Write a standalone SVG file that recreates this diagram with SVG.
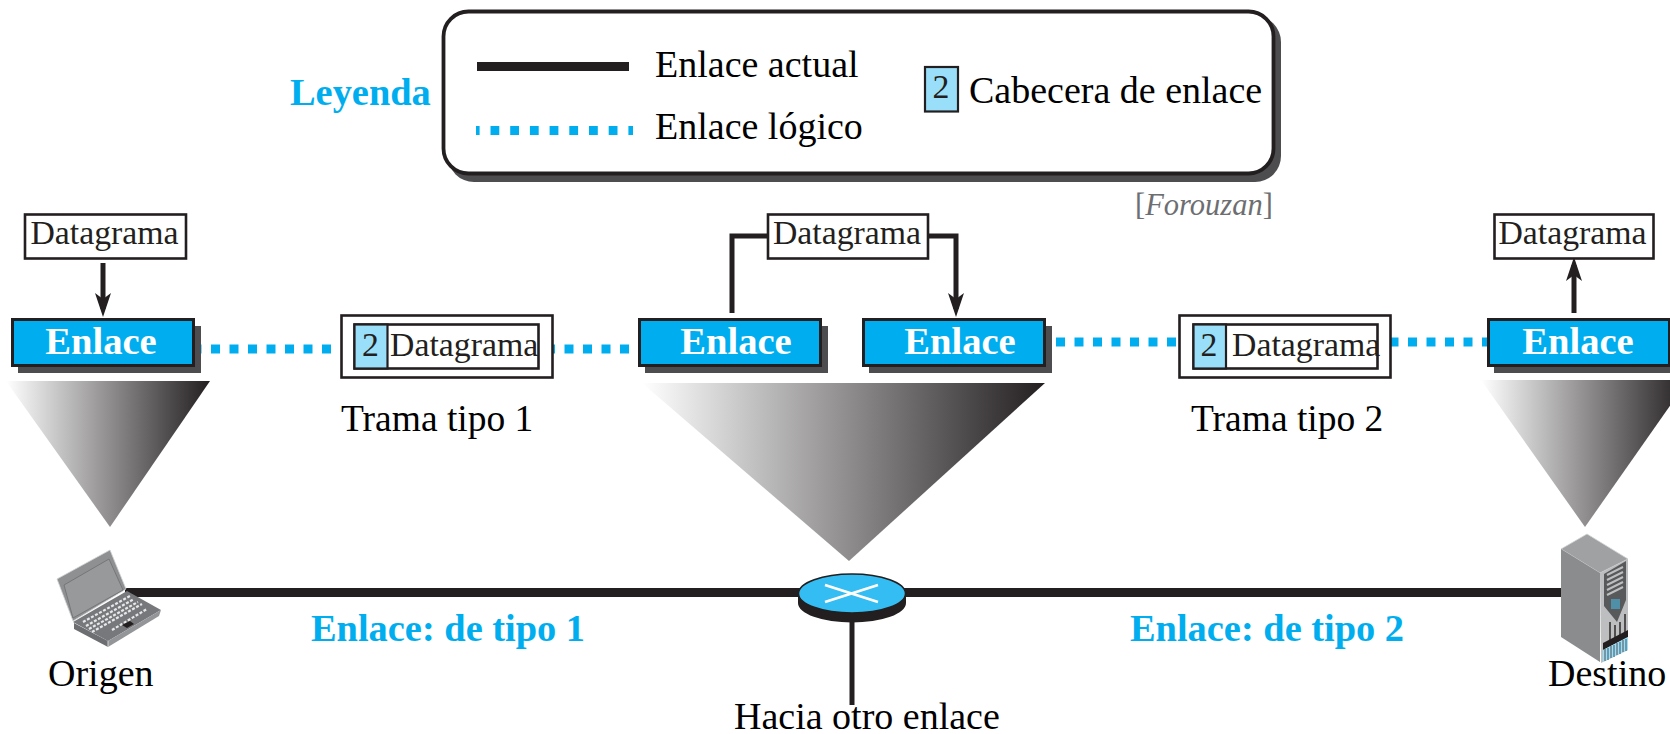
<svg xmlns="http://www.w3.org/2000/svg" width="1670" height="734" viewBox="0 0 1670 734">
<style>
  text { font-family: "Liberation Serif", "Times New Roman", serif; }
  .lbl { font-size: 38px; fill: #000; }
  .cap { font-size: 37.5px; fill: #000; }
  .dg { font-size: 33.8px; fill: #231f20; }
  .blue { font-size: 38.4px; font-weight: bold; fill: #00aeef; }
  .enl { font-size: 38.6px; font-weight: bold; fill: #fff; text-anchor: middle; }
  .shadow { fill: #4d4d4f; }
  .link { fill: #00aeef; stroke: #231f20; stroke-width: 3; }
  .box { fill: #fff; stroke: #231f20; stroke-width: 2.6; }
  .hdr { fill: #9adffa; stroke: #231f20; stroke-width: 2.2; }
  .solid { fill: none; stroke: #231f20; stroke-width: 5; }
  .cable { fill: none; stroke: #231f20; stroke-width: 9; }
  .dots { fill: none; stroke: #00aeef; stroke-width: 9; stroke-dasharray: 9 9.5; }
</style>
<defs>
  <marker id="arrow" markerUnits="userSpaceOnUse" markerWidth="24" markerHeight="16" viewBox="0 0 24 16" refX="16" refY="8" orient="auto">
    <path d="M0,0 L24,8 L0,16 L6,8 z" fill="#231f20"/>
  </marker>
  <linearGradient id="funnel" x1="0" y1="0" x2="1" y2="0">
    <stop offset="0" stop-color="#ffffff"/>
    <stop offset="1" stop-color="#231f20"/>
  </linearGradient>
</defs>

<!-- legend panel -->
<g id="legend">
  <text class="blue" x="290" y="105">Leyenda</text>
  <rect class="shadow" x="448" y="16" width="833" height="166" rx="26"/>
  <rect x="443.5" y="11.5" width="830" height="162" rx="25" fill="#fff" stroke="#231f20" stroke-width="3.8"/>
  <line x1="477" y1="66.5" x2="629" y2="66.5" stroke="#231f20" stroke-width="9"/>
  <line x1="476" y1="130.5" x2="633" y2="130.5" stroke="#00aeef" stroke-width="9" stroke-dasharray="8.8 10.9" stroke-dashoffset="5.2"/>
  <text class="lbl" x="655" y="77">Enlace actual</text>
  <text class="lbl" x="655" y="139">Enlace lógico</text>
  <rect class="hdr" x="925" y="67" width="33" height="44.5"/>
  <text class="dg" x="941" y="98" text-anchor="middle">2</text>
  <text class="lbl" x="969" y="103">Cabecera de enlace</text>
</g>
<text id="credit" x="1135" y="215" font-size="30.5" fill="#6d6e71">[<tspan font-style="italic">Forouzan</tspan>]</text>

<!-- protocol funnels from each device up to its link layer -->
<g id="funnels">
  <path d="M6,381 L210,381 L110,527 z" fill="url(#funnel)"/>
  <path d="M642,383 L1045,383 L849,561 z" fill="url(#funnel)"/>
  <path d="M1481,380 L1688,380 L1585,527 z" fill="url(#funnel)"/>
</g>

<!-- connectors -->
<g id="connectors">
  <line class="cable" x1="125" y1="592.5" x2="1562" y2="592.5"/>
  <line class="solid" x1="852" y1="615" x2="852" y2="705"/>
  <path class="solid" d="M103,263 V309" marker-end="url(#arrow)"/>
  <path class="solid" d="M732,313 V236 H768"/>
  <path class="solid" d="M927,236 H956 V309" marker-end="url(#arrow)"/>
  <path class="solid" d="M1574,313 V265" marker-end="url(#arrow)"/>
  <path class="dots" d="M192.5,349 H331"/>
  <path class="dots" d="M546,349 H629"/>
  <path class="dots" d="M1056,342 H1176"/>
  <path class="dots" d="M1389.5,342 H1495"/>
</g>

<!-- datagram boxes -->
<g id="dg-source">
  <rect class="box" x="25" y="214.5" width="161" height="44"/>
  <text class="dg" x="104.5" y="244" text-anchor="middle">Datagrama</text>
</g>
<g id="dg-router">
  <rect class="box" x="768" y="214.5" width="160" height="44"/>
  <text class="dg" x="847" y="244" text-anchor="middle">Datagrama</text>
</g>
<g id="dg-dest">
  <rect class="box" x="1494.5" y="214.5" width="159" height="44"/>
  <text class="dg" x="1572.5" y="244" text-anchor="middle">Datagrama</text>
</g>

<!-- link layer boxes -->
<g id="link-source">
  <rect class="shadow" x="18" y="326" width="183" height="47"/>
  <rect class="link" x="12.5" y="319.5" width="181" height="46"/>
  <text class="enl" x="101" y="354">Enlace</text>
</g>
<g id="link-router-in">
  <rect class="shadow" x="645" y="326" width="183" height="47"/>
  <rect class="link" x="639.5" y="319.5" width="181" height="46"/>
  <text class="enl" x="736" y="354">Enlace</text>
</g>
<g id="link-router-out">
  <rect class="shadow" x="869" y="326" width="183" height="47"/>
  <rect class="link" x="863.5" y="319.5" width="181" height="46"/>
  <text class="enl" x="960" y="354">Enlace</text>
</g>
<g id="link-dest">
  <rect class="shadow" x="1494" y="326" width="183" height="47"/>
  <rect class="link" x="1488.5" y="319.5" width="181" height="46"/>
  <text class="enl" x="1578" y="354">Enlace</text>
</g>

<!-- frames travelling on each link -->
<g id="frame-1">
  <rect class="box" x="341.5" y="315.5" width="211" height="62"/>
  <rect class="box" x="354.5" y="324.5" width="184" height="44"/>
  <rect class="hdr" x="354.5" y="324.5" width="33" height="44"/>
  <text class="dg" x="370.5" y="356" text-anchor="middle">2</text>
  <text class="dg" x="390" y="355.5">Datagrama</text>
  <text class="cap" x="341" y="430.5">Trama tipo 1</text>
</g>
<g id="frame-2">
  <rect class="box" x="1179.5" y="315.5" width="211" height="62"/>
  <rect class="box" x="1193.5" y="324.5" width="184" height="44"/>
  <rect class="hdr" x="1193.5" y="324.5" width="32.5" height="44"/>
  <text class="dg" x="1209" y="355.5" text-anchor="middle">2</text>
  <text class="dg" x="1232" y="355.5">Datagrama</text>
  <text class="cap" x="1191" y="430.5">Trama tipo 2</text>
</g>

<!-- laptop -->
<g id="origin">
  <path d="M57,579 L110,550 L126,589 L73,621 z" fill="#8e9092" stroke="#d1d3d4" stroke-width="0.8"/>
  <path d="M64,585 L109,559 L123,590 L73,618 z" fill="#97999b" stroke="#6d6e71" stroke-width="0.8"/>
  <path d="M73,622 L127,591 L161,610 L108,641 z" fill="#77787b"/>
  <path d="M74,623 L108,641 L108,647 L74,629 z" fill="#6d6e71"/>
  <path d="M108,641 L161,610 L159,616 L108,647 z" fill="#939598"/>
  <line x1="108" y1="641" x2="108" y2="647" stroke="#d1d3d4" stroke-width="1"/>
  <g fill="none" stroke="#e6e7e8" stroke-width="2.2" stroke-dasharray="3 1.6">
    <path d="M83,622 L130,596"/>
    <path d="M86,626 L134,599"/>
    <path d="M89,629 L138,602"/>
    <path d="M92,632 L142,604"/>
    <path d="M112,630 L147,609"/>
  </g>
  <path d="M122,625 L130,621 L134,624 L127,628 z" fill="#231f20"/>
  <text class="lbl" x="48" y="686">Origen</text>
</g>

<!-- server -->
<g id="destination">
  <path d="M1561,549 L1587,534 L1628,559 L1600,573 z" fill="#a0a1a3" stroke="#d1d3d4" stroke-width="0.8"/>
  <path d="M1561,549 L1600,573 L1600,662 L1561,637 z" fill="#8a8c8e"/>
  <path d="M1600,573 L1628,559 L1628,650 L1601,663 z" fill="#bcbec0"/>
  <path d="M1604,574 L1626,561 L1626,600 L1617,622 L1604,606 z" fill="#58595b"/>
  <g stroke="#bcbec0" stroke-width="2">
    <path d="M1607,575 L1623,567"/>
    <path d="M1607,580 L1623,572"/>
    <path d="M1607,585 L1623,577"/>
    <path d="M1607,590 L1623,582"/>
    <path d="M1607,595 L1623,587"/>
  </g>
  <rect x="1611" y="599" width="9" height="10" fill="#4f8fa8"/>
  <g stroke="#231f20" stroke-width="1.4">
    <path d="M1610,622 V640"/>
    <path d="M1615,625 V638"/>
    <path d="M1620,622 V636"/>
    <path d="M1625,614 V634"/>
  </g>
  <path d="M1603,643 L1628,630 L1628,637 L1603,650 z" fill="#231f20"/>
  <path d="M1603,650 L1628,637 L1628,650 L1603,662 z" fill="#9adffa"/>
  <g stroke="#414042" stroke-width="0.9">
    <path d="M1605,649 V661"/>
    <path d="M1608,648 V660"/>
    <path d="M1611,646 V658"/>
    <path d="M1614,645 V657"/>
    <path d="M1617,643 V655"/>
    <path d="M1620,642 V654"/>
    <path d="M1623,640 V652"/>
    <path d="M1626,639 V651"/>
  </g>
  <text class="lbl" x="1548" y="686">Destino</text>
</g>

<!-- router -->
<g id="router">
  <path d="M798,593 V603 A54,19.5 0 0 0 906,603 V593 z" fill="#231f20"/>
  <ellipse cx="852" cy="593.5" rx="53.5" ry="19.5" fill="#33bdf2" stroke="#231f20" stroke-width="1.5"/>
  <path d="M825,585 L878,602 M825,602 L878,585" stroke="#fff" stroke-width="2.8" fill="none"/>
</g>

<!-- link names and the stub label -->
<text class="blue" x="311" y="641">Enlace: de tipo 1</text>
<text class="blue" x="1130" y="641">Enlace: de tipo 2</text>
<text class="lbl" x="734" y="729">Hacia otro enlace</text>
</svg>
